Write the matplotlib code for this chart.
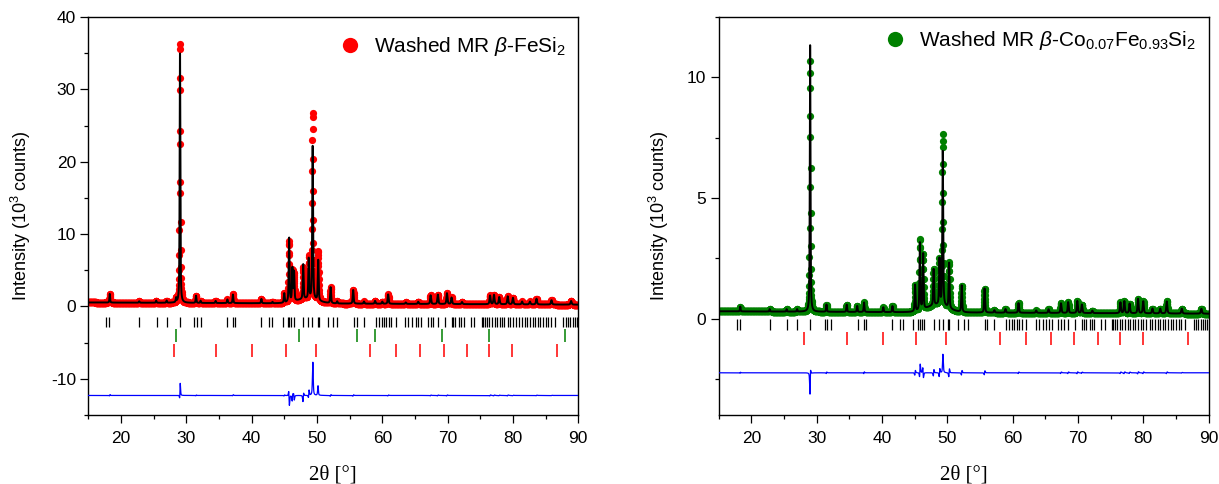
import numpy as np
import matplotlib
matplotlib.use("Agg")
import matplotlib.pyplot as plt
from matplotlib.lines import Line2D

plt.rcParams['font.family'] = ['Liberation Sans', 'DejaVu Sans']
plt.rcParams['mathtext.fontset'] = 'custom'
plt.rcParams['mathtext.rm'] = 'Liberation Sans'
plt.rcParams['mathtext.it'] = 'Liberation Sans:italic'
plt.rcParams['axes.unicode_minus'] = False

# ---------------- data (10^3 counts, 2theta in deg) ----------------
step = 0.02
# Left panel: beta-FeSi2
L_pos   = [18.3, 22.8, 25.4, 27.0, 28.45, 29.05, 31.5, 32.2, 34.5, 36.3, 37.15, 41.5, 43.2,
           45.0, 45.75, 46.25, 46.5, 47.9, 48.75, 49.35, 50.2, 52.1, 53.1, 55.55, 57.2,
           58.9, 60.0, 60.9, 63.6, 65.5, 67.4, 68.5, 69.9, 70.6, 72.2, 76.5, 77.1, 77.9,
           79.2, 80.0, 81.4, 82.6, 83.6, 85.9, 88.9]
L_calc  = [1.2, 0.2, 0.3, 0.3, 0.6, 35.2, 1.0, 0.3, 0.3, 0.5, 1.2, 0.6, 0.2,
           1.3, 9.0, 4.6, 4.0, 4.8, 5.6, 21.5, 5.6, 2.2, 0.3, 1.9, 0.3,
           0.4, 0.3, 1.3, 0.2, 0.3, 1.2, 1.3, 1.5, 0.9, 0.3, 1.2, 1.3, 1.0,
           1.1, 0.9, 0.4, 0.4, 0.8, 0.6, 0.5]
L_obs   = [1.25, 0.2, 0.3, 0.3, 0.6, 36.2, 1.0, 0.3, 0.3, 0.5, 1.25, 0.6, 0.2,
           1.3, 8.4, 4.2, 3.7, 4.4, 5.9, 25.9, 6.8, 2.2, 0.3, 1.9, 0.3,
           0.4, 0.3, 1.3, 0.2, 0.3, 1.2, 1.3, 1.5, 0.9, 0.3, 1.2, 1.3, 1.0,
           1.1, 0.9, 0.4, 0.4, 0.8, 0.6, 0.5]
L_shift = [0.006, 0, 0, 0, 0, 0.0025, 0.006, 0, 0, 0, 0.006, 0, 0,
           0.006, -0.012, 0.012, -0.012, 0.014, 0.01, 0.004, -0.006, 0.006, 0, 0.006, 0,
           0, 0, 0.006, 0, 0, 0.006, 0.006, 0.006, 0, 0, 0.008, 0.006, 0.006,
           0.008, 0.006, 0, 0, 0.008, 0.006, 0]
L_bg_start, L_bg_end = 0.55, 0.25
L_hump = 0.6
L_diff_offset = -12.3

# Right panel: beta-Co0.07Fe0.93Si2
R_pos   = [18.3, 22.8, 25.4, 27.0, 29.0, 31.5, 34.6, 36.2, 37.25, 40.2, 41.6,
           45.06, 45.8, 46.3, 47.9, 48.8, 49.3, 50.27, 52.2, 55.7, 57.2,
           58.9, 60.9, 63.6, 65.5, 67.4, 68.5, 69.9, 70.6, 72.2, 76.5, 77.1, 77.9,
           79.2, 80.0, 81.4, 82.6, 83.6, 85.9, 88.9]
R_calc  = [0.2, 0.1, 0.1, 0.1, 11.05, 0.3, 0.3, 0.25, 0.4, 0.2, 0.25,
           1.1, 2.8, 2.3, 1.5, 1.9, 6.4, 1.9, 1.1, 1.0, 0.1,
           0.15, 0.4, 0.1, 0.15, 0.4, 0.45, 0.5, 0.35, 0.1, 0.45, 0.5, 0.4,
           0.6, 0.5, 0.2, 0.2, 0.5, 0.2, 0.2]
R_obs   = [0.2, 0.1, 0.1, 0.1, 10.45, 0.3, 0.3, 0.25, 0.4, 0.2, 0.25,
           1.1, 2.95, 2.3, 1.5, 1.9, 7.1, 1.9, 1.1, 1.0, 0.1,
           0.15, 0.4, 0.1, 0.15, 0.4, 0.45, 0.5, 0.35, 0.1, 0.45, 0.5, 0.4,
           0.6, 0.5, 0.2, 0.2, 0.5, 0.2, 0.2]
R_shift = [0.01, 0, 0, 0, 0.004, 0.01, 0, 0, 0.01, 0, 0,
           0.01, 0.01, -0.01, 0.01, 0.01, 0.003, 0.01, 0.01, 0.01, 0,
           0, 0.01, 0, 0, 0.01, 0.01, 0.01, 0.01, 0, 0.01, 0.01, 0.01,
           0.01, 0.01, 0, 0, 0.01, 0.01, 0]
R_bg_start, R_bg_end = 0.3, 0.2
R_hump = 0.3
R_diff_offset = -2.25

# Bragg reflection positions
ticks_FeSi2 = [17.8, 18.2, 22.8, 25.5, 27.0, 29.0, 31.2, 31.6, 32.2, 36.3, 37.2, 37.5, 41.5,
               42.7, 43.2, 44.8, 45.5, 45.8, 46.1, 46.5, 47.9, 48.7, 49.3, 50.1, 50.3, 51.7,
               52.5, 53.1, 55.7, 56.1, 57.2, 59.0, 59.5, 59.9, 60.2, 60.6, 61.0, 61.4, 62.1,
               63.5, 64.0, 64.6, 65.1, 65.5, 66.0, 67.0, 67.4, 67.8, 68.5, 69.6, 70.6, 70.9,
               71.2, 71.8, 72.1, 72.5, 73.6, 74.1, 75.2, 75.4, 75.7, 76.0, 76.4, 76.8, 77.2,
               77.6, 78.0, 78.4, 78.7, 79.2, 79.6, 80.0, 80.4, 81.0, 81.4, 81.8, 82.2, 82.6,
               83.0, 83.3, 83.8, 84.2, 84.6, 85.0, 85.4, 85.8, 86.4, 87.7, 88.1, 88.4, 88.8,
               89.2, 89.5, 89.8]
ticks_Si = [28.4, 47.3, 56.1, 58.9, 69.1, 76.4, 88.0]
ticks_FeSi = [28.1, 34.6, 40.1, 45.2, 49.8, 58.1, 62.1, 65.8, 69.4, 73.0, 76.4, 79.9, 86.8]

# ------------------------------------------------------------------
x = np.arange(15.0, 90.0 + step / 2, step)


def profile(pos, heights, shifts=None):
    y = np.zeros_like(x)
    if shifts is None:
        shifts = [0.0] * len(pos)
    for p, h, s in zip(pos, heights, shifts):
        p = p + s
        w = 0.11 + 0.0012 * (p - 15)
        lor = 1.0 / (1.0 + (2 * (x - p) / w) ** 2)
        gau = np.exp(-4 * np.log(2) * ((x - p) / w) ** 2)
        y += h * (0.55 * lor + 0.45 * gau)
    return y


def background(b0, b1, hump):
    return b0 + (b1 - b0) * (x - 15) / 75 + hump * np.exp(-0.5 * ((x - 48.5) / 1.6) ** 2)


L_bg = background(L_bg_start, L_bg_end, L_hump)
L_ycalc = L_bg + profile(L_pos, L_calc)
L_yobs = L_bg + profile(L_pos, L_obs, L_shift)
R_bg = background(R_bg_start, R_bg_end, R_hump)
R_ycalc = R_bg + profile(R_pos, R_calc)
R_yobs = R_bg + profile(R_pos, R_obs, R_shift)

fig = plt.figure(figsize=(12.19, 4.84), dpi=100)
axL = fig.add_axes([88.2 / 1219, 1 - 415 / 484, 490.1 / 1219, 398 / 484])
axR = fig.add_axes([718.7 / 1219, 1 - 415 / 484, 489.9 / 1219, 398 / 484])


def style(ax):
    for s in ax.spines.values():
        s.set_linewidth(1.0)
    ax.tick_params(axis='both', which='major', direction='out', length=5.8, width=0.9,
                   labelsize=12.5, top=False, right=False)
    ax.tick_params(axis='both', which='minor', direction='out', length=3, width=0.9,
                   top=False, right=False)
    ax.tick_params(axis='x', which='major', pad=6)
    ax.tick_params(axis='y', which='major', pad=3)
    ax.set_xlim(15, 90)
    ax.set_xticks(range(20, 91, 10))
    ax.set_xticks(range(15, 91, 10), minor=True)
    ax.set_xlabel('2θ [°]', family='Liberation Serif', fontsize=15)
    ax.xaxis.set_label_coords(0.5, -0.128)


# Left
axL.plot(x, L_yobs, 'o', color='#ff0000', ms=5.2, mew=0, zorder=2)
axL.plot(x, L_ycalc, '-', color='black', lw=1.4, zorder=3)
axL.plot(x, L_yobs - L_ycalc + L_diff_offset, '-', color='#0000ff', lw=0.9, zorder=3)
axL.vlines(ticks_FeSi2, -2.85, -1.4, color='black', lw=0.9)
axL.vlines(ticks_Si, -4.9, -3.1, color='#008000', lw=1.1)
axL.vlines(ticks_FeSi, -7.0, -5.15, color='#ff0000', lw=1.1)
style(axL)
axL.set_ylim(-15, 40)
axL.set_yticks([-10, 0, 10, 20, 30, 40])
axL.set_yticks(range(-15, 41, 5), minor=True)
axL.set_ylabel('Intensity (10$^3$ counts)', fontsize=13)
axL.yaxis.set_label_coords(-0.113, 0.5)
hL = Line2D([], [], marker='o', ls='none', color='#ff0000', ms=11, mew=0)
axL.legend([hL], ['Washed MR $\\mathit{\\beta}$-FeSi$_2$'], loc='upper right', frameon=False,
           fontsize=15, handletextpad=0.15, borderaxespad=0.2, bbox_to_anchor=(1.0, 0.985))

# Right
axR.plot(x, R_yobs, 'o', color='#008000', ms=5.2, mew=0, zorder=2)
axR.plot(x, R_ycalc, '-', color='black', lw=1.4, zorder=3)
axR.plot(x, R_yobs - R_ycalc + R_diff_offset, '-', color='#0000ff', lw=0.9, zorder=3)
axR.vlines(ticks_FeSi2, -0.49, 0.0, color='black', lw=0.9)
axR.vlines(ticks_FeSi, -1.08, -0.54, color='#ff0000', lw=1.1)
style(axR)
axR.set_ylim(-4, 12.5)
axR.set_yticks([0, 5, 10])
axR.set_yticks(np.arange(-2.5, 12.6, 2.5), minor=True)
axR.set_ylabel('Intensity (10$^3$ counts)', fontsize=13)
axR.yaxis.set_label_coords(-0.098, 0.5)
hR = Line2D([], [], marker='o', ls='none', color='#008000', ms=11, mew=0)
axR.legend([hR], ['Washed MR $\\mathit{\\beta}$-Co$_{0.07}$Fe$_{0.93}$Si$_2$'], loc='upper right',
           frameon=False, fontsize=15, handletextpad=0.15, borderaxespad=0.2,
           bbox_to_anchor=(1.0, 1.0))

fig.savefig('out.png', dpi=100)
